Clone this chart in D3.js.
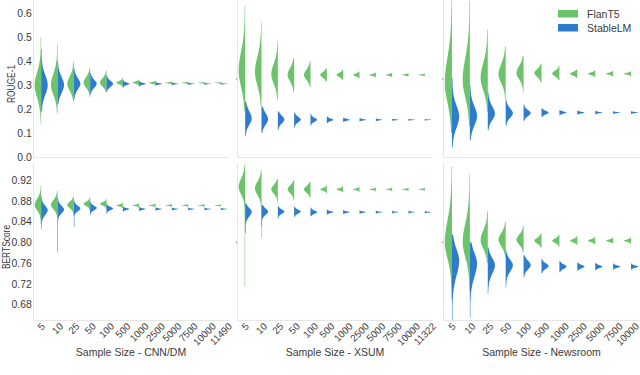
<!DOCTYPE html>
<html><head><meta charset="utf-8">
<script src="https://cdn.jsdelivr.net/npm/d3@7"></script>
<style>body{margin:0;background:#fff}svg{display:block;font-family:"Liberation Sans",Arial,sans-serif}</style>
</head><body><svg id="c" width="640" height="375"></svg>
<script>
// ---------- categories ----------
const catsCNN  = ["5","10","25","50","100","500","1000","2500","5000","7500","10000","11490"];
const catsXSUM = ["5","10","25","50","100","500","1000","2500","5000","7500","10000","11322"];
const catsNews = ["5","10","25","50","100","500","1000","2500","5000","7500","10000"];
const rougeTicks = [0.0,0.1,0.2,0.3,0.4,0.5,0.6];
const bertTicks  = [0.68,0.72,0.76,0.80,0.84,0.88,0.92];
const seriesNames = ["FlanT5","StableLM"];

// each row: [mode, sd below, sd above, min, max]
const cnnRougeFlan = [
 [0.300,0.050,0.050,0.14,0.50],[0.300,0.040,0.045,0.18,0.47],[0.305,0.028,0.030,0.23,0.40],
 [0.310,0.020,0.022,0.25,0.37],[0.310,0.015,0.017,0.27,0.36],[0.310,0.006,0.006,0.29,0.33],
 [0.310,0.004,0.004,0.296,0.324],[0.309,0.003,0.003,0.299,0.319],[0.309,0.002,0.002,0.302,0.316],
 [0.309,0.0016,0.0016,0.304,0.314],[0.309,0.0014,0.0014,0.305,0.313],[0.309,0.0012,0.0012,0.305,0.313]];
const cnnRougeStable = [
 [0.300,0.040,0.040,0.19,0.45],[0.300,0.032,0.032,0.22,0.40],[0.305,0.022,0.022,0.24,0.37],
 [0.305,0.016,0.016,0.26,0.35],[0.305,0.012,0.012,0.27,0.34],[0.305,0.005,0.005,0.29,0.32],
 [0.305,0.0035,0.0035,0.293,0.317],[0.305,0.0025,0.0025,0.297,0.313],[0.305,0.0018,0.0018,0.299,0.311],
 [0.305,0.0015,0.0015,0.300,0.310],[0.305,0.0013,0.0013,0.300,0.310],[0.305,0.0012,0.0012,0.301,0.309]];
const xsumRougeFlan = [
 [0.360,0.065,0.075,0.19,0.63],[0.355,0.055,0.060,0.21,0.56],[0.345,0.038,0.042,0.24,0.48],
 [0.342,0.026,0.028,0.27,0.41],[0.342,0.019,0.021,0.29,0.40],[0.342,0.011,0.011,0.315,0.37],
 [0.342,0.008,0.008,0.32,0.365],[0.342,0.005,0.005,0.328,0.356],[0.342,0.0035,0.0035,0.332,0.352],
 [0.342,0.003,0.003,0.333,0.351],[0.342,0.0025,0.0025,0.335,0.349],[0.342,0.002,0.002,0.336,0.348]];
const xsumRougeStable = [
 [0.160,0.025,0.030,0.085,0.23],[0.157,0.022,0.025,0.10,0.21],[0.156,0.015,0.015,0.11,0.19],
 [0.156,0.011,0.011,0.12,0.185],[0.155,0.008,0.008,0.13,0.18],[0.155,0.005,0.005,0.142,0.168],
 [0.155,0.0035,0.0035,0.146,0.164],[0.155,0.0025,0.0025,0.149,0.161],[0.155,0.002,0.002,0.150,0.160],
 [0.155,0.0016,0.0016,0.151,0.159],[0.155,0.0013,0.0013,0.151,0.159],[0.155,0.0011,0.0011,0.152,0.158]];
const newsRougeFlan = [
 [0.310,0.080,0.100,0.10,0.66],[0.320,0.070,0.090,0.13,0.65],[0.330,0.050,0.060,0.19,0.53],
 [0.345,0.035,0.040,0.24,0.46],[0.350,0.025,0.028,0.27,0.42],[0.350,0.015,0.015,0.31,0.39],
 [0.348,0.011,0.011,0.32,0.38],[0.347,0.007,0.007,0.33,0.365],[0.347,0.005,0.005,0.334,0.36],
 [0.347,0.004,0.004,0.336,0.358],[0.347,0.0035,0.0035,0.337,0.357]];
const newsRougeStable = [
 [0.168,0.045,0.045,0.04,0.33],[0.170,0.038,0.040,0.07,0.30],[0.180,0.025,0.030,0.11,0.27],
 [0.182,0.018,0.020,0.13,0.24],[0.183,0.012,0.012,0.15,0.22],[0.185,0.007,0.007,0.168,0.202],
 [0.185,0.004,0.004,0.174,0.196],[0.185,0.003,0.003,0.177,0.193],[0.185,0.0025,0.0025,0.178,0.192],
 [0.185,0.002,0.002,0.179,0.191],[0.185,0.002,0.002,0.179,0.191]];

const cnnBertFlan = [
 [0.872,0.010,0.011,0.835,0.910],[0.872,0.008,0.009,0.840,0.900],[0.872,0.006,0.006,0.850,0.888],
 [0.874,0.004,0.004,0.860,0.886],[0.874,0.003,0.003,0.864,0.884],[0.871,0.0016,0.0016,0.866,0.876],
 [0.871,0.0013,0.0013,0.867,0.875],[0.871,0.0011,0.0011,0.868,0.874],[0.871,0.0009,0.0009,0.868,0.874],
 [0.871,0.0008,0.0008,0.868,0.874],[0.871,0.0008,0.0008,0.868,0.874],[0.871,0.0007,0.0007,0.869,0.873]];
const cnnBertStable = [
 [0.862,0.009,0.008,0.825,0.888],[0.863,0.007,0.007,0.780,0.885],[0.865,0.005,0.005,0.830,0.880],
 [0.866,0.004,0.004,0.852,0.878],[0.865,0.003,0.003,0.855,0.875],[0.864,0.0016,0.0016,0.859,0.869],
 [0.864,0.0013,0.0013,0.860,0.868],[0.864,0.0011,0.0011,0.861,0.867],[0.864,0.0009,0.0009,0.861,0.867],
 [0.864,0.0008,0.0008,0.861,0.867],[0.864,0.0008,0.0008,0.861,0.867],[0.864,0.0007,0.0007,0.862,0.866]];
const xsumBertFlan = [
 [0.907,0.014,0.015,0.714,0.950],[0.904,0.012,0.012,0.808,0.940],[0.902,0.008,0.008,0.875,0.922],
 [0.902,0.007,0.007,0.882,0.920],[0.902,0.006,0.006,0.886,0.916],[0.902,0.0025,0.0025,0.894,0.910],
 [0.902,0.002,0.002,0.896,0.908],[0.902,0.0015,0.0015,0.897,0.907],[0.902,0.0012,0.0012,0.898,0.906],
 [0.902,0.001,0.001,0.898,0.906],[0.902,0.001,0.001,0.899,0.905],[0.902,0.0009,0.0009,0.899,0.905]];
const xsumBertStable = [
 [0.859,0.009,0.007,0.818,0.875],[0.859,0.006,0.006,0.830,0.872],[0.859,0.004,0.004,0.845,0.870],
 [0.859,0.0035,0.0035,0.848,0.869],[0.858,0.003,0.003,0.850,0.867],[0.858,0.0016,0.0016,0.853,0.863],
 [0.858,0.0013,0.0013,0.854,0.862],[0.858,0.0011,0.0011,0.855,0.861],[0.858,0.0009,0.0009,0.855,0.861],
 [0.858,0.0008,0.0008,0.855,0.861],[0.858,0.0008,0.0008,0.855,0.861],[0.858,0.0007,0.0007,0.856,0.860]];
const newsBertFlan = [
 [0.800,0.030,0.040,0.690,0.945],[0.800,0.028,0.035,0.705,0.930],[0.804,0.016,0.018,0.760,0.860],
 [0.805,0.012,0.012,0.770,0.840],[0.805,0.009,0.009,0.780,0.832],[0.803,0.005,0.005,0.788,0.818],
 [0.803,0.004,0.004,0.791,0.815],[0.803,0.003,0.003,0.794,0.812],[0.803,0.0025,0.0025,0.795,0.811],
 [0.803,0.002,0.002,0.797,0.809],[0.803,0.002,0.002,0.797,0.809]];
const newsBertStable = [
 [0.764,0.028,0.022,0.650,0.815],[0.759,0.025,0.020,0.655,0.800],[0.756,0.016,0.013,0.700,0.790],
 [0.756,0.012,0.010,0.712,0.785],[0.756,0.008,0.008,0.732,0.775],[0.754,0.005,0.005,0.740,0.768],
 [0.753,0.004,0.004,0.742,0.764],[0.753,0.003,0.003,0.745,0.761],[0.753,0.0025,0.0025,0.746,0.760],
 [0.753,0.002,0.002,0.747,0.759],[0.753,0.002,0.002,0.747,0.759]];

// ---------- layout ----------
const GREEN = "#6cc46a", BLUE = "#2d7dcc", TXT = "#3a3a3a", SPINE = "#e6e6e6";
const svg = d3.select("#c");
const cols = [
 {x0:33, x1:229, cats:catsCNN,  title:"Sample Size - CNN/DM",   rouge:[cnnRougeFlan,cnnRougeStable],   bert:[cnnBertFlan,cnnBertStable]},
 {x0:237,x1:433, cats:catsXSUM, title:"Sample Size - XSUM",     rouge:[xsumRougeFlan,xsumRougeStable], bert:[xsumBertFlan,xsumBertStable]},
 {x0:443,x1:640, cats:catsNews, title:"Sample Size - Newsroom", rouge:[newsRougeFlan,newsRougeStable], bert:[newsBertFlan,newsBertStable]}];
const rows = [
 {y0:0,  y1:157, domain:[0,0.6542],    ticks:rougeTicks, fmt:d3.format(".1f"), label:"ROUGE-1",   labelX:15, key:"rouge", mark:0.325},
 {y0:163,y1:320, domain:[0.65,0.9528], ticks:bertTicks,  fmt:d3.format(".2f"), label:"BERTScore", labelX:9.5, key:"bert",  mark:0.80}];

function dens(v, d){
  const [m, sl, sh, lo, hi] = d;
  if (v < lo || v > hi) return 0;
  const s = v < m ? sl : sh;
  const z = (v - m) / s;
  return 0.85*Math.exp(-0.5*z*z) + 0.15*Math.exp(-0.5*z*z/6.25);
}

const defs = svg.append("defs");
let clipId = 0;
cols.forEach((col, ci) => {
  const x = d3.scaleBand().domain(col.cats).range([col.x0, col.x1]);
  const half = x.bandwidth()*0.4;
  rows.forEach((row, ri) => {
    const y = d3.scaleLinear().domain(row.domain).range([row.y1, row.y0]);
    const id = "clip" + (clipId++);
    defs.append("clipPath").attr("id", id).append("rect")
      .attr("x", col.x0).attr("y", row.y0).attr("width", col.x1-col.x0).attr("height", row.y1-row.y0);
    const g = svg.append("g");
    // spines
    g.append("line").attr("x1",col.x0+0.5).attr("x2",col.x0+0.5).attr("y1",row.y0).attr("y2",row.y1)
      .attr("stroke",SPINE).attr("stroke-width",1);
    g.append("line").attr("x1",col.x0).attr("x2",col.x1).attr("y1",row.y1+0.5).attr("y2",row.y1+0.5)
      .attr("stroke",SPINE).attr("stroke-width",1);
    if (ci === 0) {
      const ax = d3.axisLeft(y).tickValues(row.ticks).tickFormat(row.fmt).tickSize(0).tickPadding(1.2);
      const ag = g.append("g").attr("transform",`translate(${col.x0},0)`).call(ax);
      ag.select(".domain").remove();
      ag.selectAll("text").attr("fill",TXT).attr("font-size",10.4).attr("font-family",'"Liberation Sans",Arial,sans-serif');
      g.append("text").attr("transform",`translate(${row.labelX},${(row.y0+row.y1)/2+5.5}) rotate(-90) scale(0.8,1)`)
        .attr("text-anchor","middle").attr("fill",TXT).attr("font-size",10.5).text(row.label);
    } else {
      g.append("circle").attr("cx",col.x0-0.5).attr("cy",y(row.mark)).attr("r",0.8).attr("fill","#9a9a9a");
    }
    const vg = g.append("g").attr("clip-path",`url(#${id})`);
    const sets = col[row.key];
    sets.forEach((data, si) => {
      data.forEach((d, k) => {
        const cx = x(col.cats[k]) + x.bandwidth()/2;
        const N = 240;
        const pts = d3.range(N+1).map(i => d[3] + (d[4]-d[3])*i/N);
        const w = v => Math.max(half*dens(v,d), 0.5);
        const area = d3.area().y(v => y(v))
          .x0(v => si === 0 ? cx - w(v) : cx)
          .x1(v => si === 0 ? cx : cx + w(v));
        vg.append("path").attr("d", area(pts)).attr("fill", si === 0 ? GREEN : BLUE);
      });
    });
    // x tick labels (bottom row only)
    if (ri === 1) {
      col.cats.forEach(c => {
        const cx = x(c) + x.bandwidth()/2;
        const t = g.append("text").attr("text-anchor","middle").attr("dominant-baseline","central")
          .attr("fill",TXT).attr("font-size",9.8).text(c);
        const L = t.node().getComputedTextLength();
        const cy = 322 + (L + 7)*0.7071/2;
        t.attr("transform",`translate(${Math.min(cx, 640 - (L+7)*0.7071/2 - 0.5)},${cy}) rotate(-45)`);
      });
      g.append("text").attr("x",(col.x0+col.x1)/2).attr("y",356).attr("text-anchor","middle")
        .attr("fill",TXT).attr("font-size",10.5).text(col.title);
    }
  });
});

// legend
const lg = svg.append("g");
seriesNames.forEach((n, i) => {
  lg.append("rect").attr("x",558).attr("y",10+i*14).attr("width",20).attr("height",7.5).attr("fill", i===0?GREEN:BLUE);
  lg.append("text").attr("x",587).attr("y",14+i*14).attr("dominant-baseline","central")
    .attr("fill",TXT).attr("font-size",10.5).text(n);
});
</script></body></html>
